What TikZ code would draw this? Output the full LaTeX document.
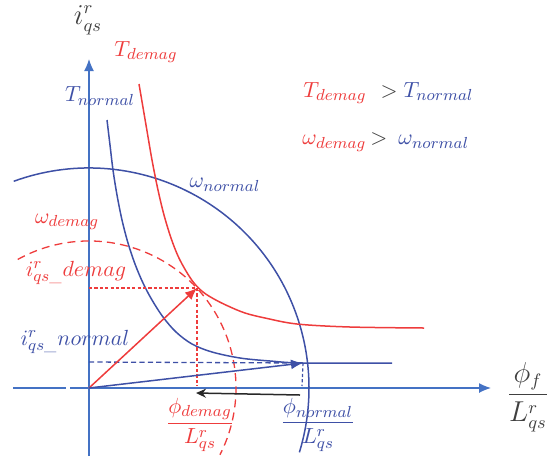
\documentclass[tikz,border=0pt]{standalone}
\usepackage{amsmath}
\usetikzlibrary{arrows.meta}
\definecolor{cred}{RGB}{238,60,60}
\definecolor{cblue}{RGB}{62,80,166}
\definecolor{caxis}{RGB}{68,114,196}
\definecolor{cgray}{RGB}{64,64,64}
\definecolor{cblk}{RGB}{40,40,40}
\tikzset{
  lbl/.style={inner sep=0pt, font=\fontsize{11}{13}\selectfont},
  biglbl/.style={inner sep=0pt, font=\fontsize{13.5}{16}\selectfont},
  axisline/.style={caxis, line width=0.65pt},
  curve/.style={line width=0.75pt},
  thindash/.style={line width=0.6pt, dash pattern=on 1.6pt off 1.1pt},
  vec/.style={line width=0.75pt, -{Latex[length=6pt,width=5pt]}},
}
\begin{document}
\begin{tikzpicture}[x=0.5pt,y=-0.5pt]
\useasboundingbox (0,0) rectangle (556,456);
% named points
\coordinate (O) at (89,388);
\coordinate (AxL1) at (13,388);
\coordinate (AxL2) at (66,388);
\coordinate (AxL3) at (70,388);
\coordinate (AxR) at (491,388);
\coordinate (AxB) at (89,456);
\coordinate (AxT) at (89,59);
\coordinate (Pd) at (197,288);
\coordinate (Pn) at (303,363);
\coordinate (Pdy) at (89,288);
\coordinate (Pny) at (89,362);
\coordinate (Pdx) at (197,386);
\coordinate (Pnx) at (302,386);
\coordinate (Bs) at (300,395);
\coordinate (Be) at (196,393);
% axes
\draw[axisline] (AxL1) -- (AxL2);
\draw[axisline,-{Latex[length=6pt,width=5pt]}] (AxL3) -- (AxR);
\draw[axisline,-{Latex[length=6pt,width=5pt]}] (AxB) -- (AxT);
% omega normal circle
\draw[cblue,curve] (O) ++(110:110pt) arc[start angle=110, end angle=-17, radius=110pt];
% omega demag circle (dashed)
\draw[cred,line width=0.65pt,dash pattern=on 4pt off 2.6pt] (O) ++(119:73.5pt) arc[start angle=119, end angle=-27, radius=73.5pt];
% T normal curve
\draw[cblue,curve] plot[smooth,tension=0.55] coordinates {(107,120) (110,145) (113,170) (117,195) (122,220) (128,243) (135,264) (143,283) (152,300) (163,317) (176,332) (192,344) (212,352) (240,358) (270,361) (303,363) (392,363)};
% T demag curve
\draw[cred,curve] plot[smooth,tension=0.55] coordinates {(139,84) (146,125) (152,160) (158,190) (164,215) (171,238) (178,256) (186,271) (194,283) (203,292) (214,299) (228,306) (245,313) (265,318) (297,324) (350,327) (424,328)};
% dashed projections
\draw[cred,thindash] (Pdy) -- (Pd);
\draw[cred,thindash] (Pd) -- (Pdx);
\draw[cblue,line width=0.65pt,dash pattern=on 2.6pt off 1.6pt] (Pny) -- (Pn);
\draw[cblue,thindash] (Pn) -- (Pnx);
% current vectors
\draw[cred,vec] (O) -- (Pd);
\draw[cblue,vec] (O) -- (Pn);
% flux reduction arrow
\draw[cblk,line width=0.75pt,-{Stealth[length=5pt,width=4.5pt]}] (Bs) -- (Be);
% labels
\node[biglbl,text=cgray] (liq) at (88,20) {$i^{r}_{qs}$};
\node[lbl,text=cred] (lTd) at (146,52) {$T_{demag}$};
\node[lbl,text=cblue] (lTn) at (100,96) {$T_{normal}$};
\node[lbl,anchor=west] (lc1) at (303,93) {$\textcolor{cred}{T_{demag}}\hspace{7pt}\textcolor{cgray}{>}\hspace{3pt}\textcolor{cblue}{T_{normal}}$};
\node[lbl,anchor=west] (lc2) at (302,142) {$\textcolor{cred}{\omega_{demag}}\hspace{2pt}\textcolor{cgray}{>}\hspace{5.5pt}\textcolor{cblue}{\omega_{normal}}$};
\node[lbl,text=cblue] (lwn) at (225,185) {$\omega_{normal}$};
\node[lbl,text=cred] (lwd) at (67,222) {$\omega_{demag}$};
\node[lbl,text=cred] (lid) at (76,273) {$i^{r}_{qs\_}demag$};
\node[lbl,text=cblue] (lin) at (75,342) {$i^{r}_{qs\_}normal$};
\node[lbl,text=cred] (lfd) at (200,425) {$\dfrac{\phi_{demag}}{L^{r}_{qs}}$};
\node[lbl,text=cblue] (lfn) at (318,425) {$\dfrac{\phi_{normal}}{L^{r}_{qs}}$};
\node[biglbl,text=cgray] (lff) at (528,397) {$\dfrac{\phi_{f}}{L^{r}_{qs}}$};
\end{tikzpicture}
\end{document}
